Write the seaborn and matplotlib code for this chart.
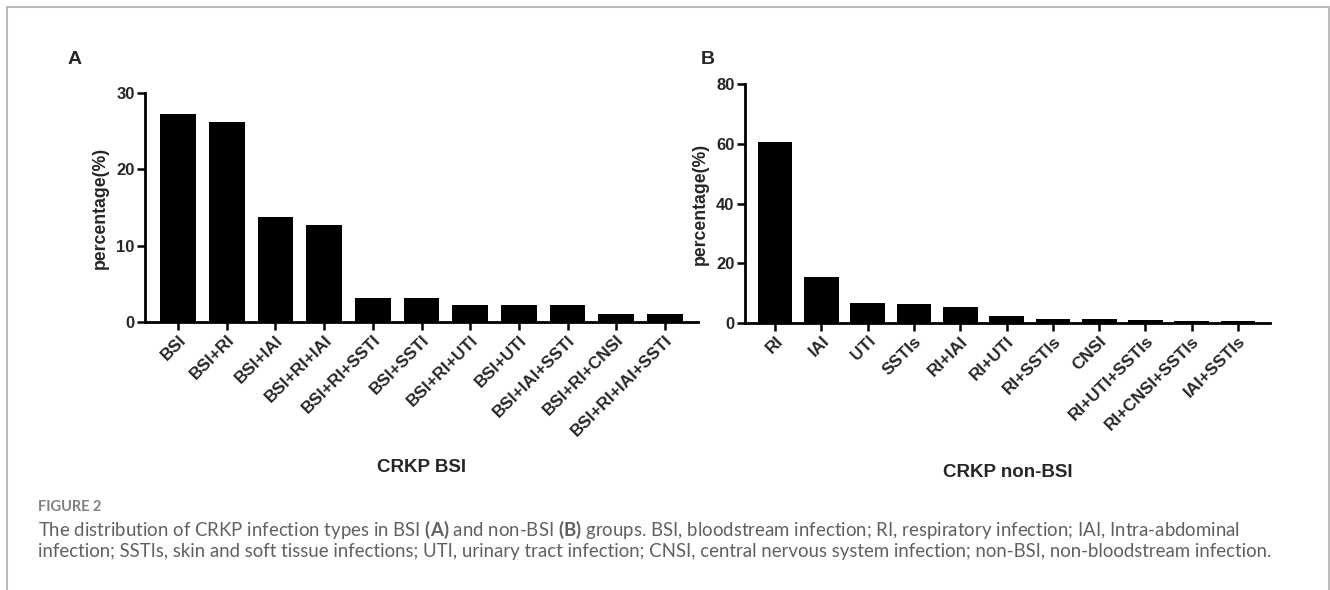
import seaborn as sns
import matplotlib.pyplot as plt
from matplotlib.lines import Line2D
import pandas as pd

# panel A: BSI group
bsi_types = ['BSI', 'BSI+RI', 'BSI+IAI', 'BSI+RI+IAI', 'BSI+RI+SSTI', 'BSI+SSTI',
             'BSI+RI+UTI', 'BSI+UTI', 'BSI+IAI+SSTI', 'BSI+RI+CNSI', 'BSI+RI+IAI+SSTI']
bsi_pct = [27.2, 26.2, 13.7, 12.7, 3.2, 3.2, 2.2, 2.2, 2.2, 1.1, 1.1]

# panel B: non-BSI group
nonbsi_types = ['RI', 'IAI', 'UTI', 'SSTIs', 'RI+IAI', 'RI+UTI', 'RI+SSTIs', 'CNSI',
                'RI+UTI+SSTIs', 'RI+CNSI+SSTIs', 'IAI+SSTIs']
nonbsi_pct = [60.7, 15.3, 6.8, 6.4, 5.2, 2.2, 1.5, 1.5, 1.1, 0.8, 0.8]

df_a = pd.DataFrame({'type': bsi_types, 'pct': bsi_pct})
df_b = pd.DataFrame({'type': nonbsi_types, 'pct': nonbsi_pct})

sns.set_theme(style="ticks")
plt.rcParams['font.family'] = ['Liberation Sans', 'DejaVu Sans']
plt.rcParams['mathtext.fontset'] = 'custom'
plt.rcParams['mathtext.rm'] = 'Lato'
plt.rcParams['mathtext.bf'] = 'Lato:bold'

fig = plt.figure(figsize=(13.3, 5.9), dpi=100)
W, H = 1330, 590

def px_axes(x0, x1, ytop, ybot):
    return fig.add_axes([x0 / W, 1 - ybot / H, (x1 - x0) / W, (ybot - ytop) / H])

ax_a = px_axes(145, 698, 93, 322)
ax_b = px_axes(745, 1270, 84, 323)

panels = [
    (ax_a, df_a, 30, [0, 10, 20, 30], 'CRKP BSI', (-0.68, 10.68), -0.60, 0.73, 'A', 75),
    (ax_b, df_b, 80, [0, 20, 40, 60, 80], 'CRKP non-BSI', (-0.65, 10.69), -0.59, 0.75, 'B', 708),
]

for ax, df, ymax, yt, xlab, xl, xlab_y, bw, letter, lx in panels:
    sns.barplot(data=df, x='type', y='pct', color='black', saturation=1,
                width=bw, ax=ax, edgecolor='black', linewidth=0)
    ax.set_ylim(0, ymax)
    ax.set_xlim(*xl)
    ax.set_yticks(yt)
    ax.set_ylabel('percentage(%)', fontsize=12.7, fontweight='bold', labelpad=5)
    ax.set_xlabel(xlab, fontsize=13.5, fontweight='bold')
    ax.xaxis.set_label_coords(0.5, xlab_y)
    sns.despine(ax=ax)
    for s in ['left', 'bottom']:
        ax.spines[s].set_linewidth(2)
        ax.spines[s].set_color('black')
    ax.tick_params(axis='both', direction='out', length=6, width=1.8, color='black',
                   labelsize=12, pad=1.5)
    for lbl in ax.get_yticklabels():
        lbl.set_fontweight('bold')
    ax.set_xticks(range(len(df)))
    ax.set_xticklabels(df['type'], rotation=45, ha='right', rotation_mode='anchor',
                       fontweight='bold', fontsize=12.3)
    fig.text(lx / W, 1 - 59 / H, letter, fontsize=14, fontweight='bold',
             ha='center', va='center')

# caption
fig.text(38 / W, 1 - 507 / H, 'FIGURE 2', fontsize=10.5, color='#808080',
         family=['Lato', 'DejaVu Sans'], fontweight='bold', va='center')
cap1 = ('The distribution of CRKP infection types in BSI $\\bf{(A)}$ and non-BSI $\\bf{(B)}$ groups. '
        'BSI, bloodstream infection; RI, respiratory infection; IAI, Intra-abdominal')
cap2 = ('infection; SSTIs, skin and soft tissue infections; UTI, urinary tract infection; '
        'CNSI, central nervous system infection; non-BSI, non-bloodstream infection.')
fig.text(38 / W, 1 - 530 / H, cap1, fontsize=13.4, color='#606060',
         family=['Lato', 'DejaVu Sans'], va='center')
fig.text(38 / W, 1 - 552 / H, cap2, fontsize=13.4, color='#606060',
         family=['Lato', 'DejaVu Sans'], va='center')

# frame around the figure
fc = '#bbbbbb'
fig.add_artist(Line2D([7 / W, 7 / W], [0, 1 - 7 / H], color=fc, lw=1.5, transform=fig.transFigure))
fig.add_artist(Line2D([7 / W, 1329 / W], [1 - 7 / H, 1 - 7 / H], color=fc, lw=1.5, transform=fig.transFigure))
fig.add_artist(Line2D([1329 / W, 1329 / W], [0, 1 - 7 / H], color=fc, lw=1.5, transform=fig.transFigure))

fig.savefig('out.png', dpi=100)
